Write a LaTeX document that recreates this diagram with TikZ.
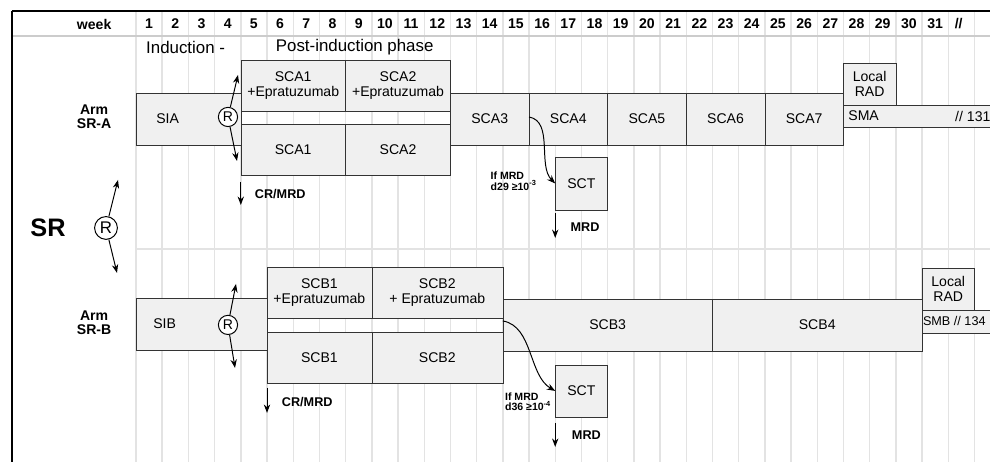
\documentclass[tikz,border=0pt]{standalone}
\usepackage{fontspec}
\setmainfont{Liberation Sans}
\usetikzlibrary{positioning,shadows,arrows.meta}

\newcommand{\wkw}{0.655cm}
\newcommand{\pxh}{0.025cm}

\begin{document}
\begin{tikzpicture}[x=0.655cm, y=-0.025cm, font=\fontsize{10}{11}\selectfont,
  box/.style = {draw=black!80, fill=gray!12, outer sep=0pt, inner sep=1pt, align=center,
                drop shadow={shadow xshift=0.3pt, shadow yshift=-0.8pt, opacity=1, fill=black!80}},
  wks/.style = {minimum width=#1*\wkw},
  ht/.style = {minimum height=#1*\pxh},
  gridline/.style = {draw=gray!22, line width=1pt},
  wknum/.style = {font=\fontsize{10}{12}\selectfont\bfseries},
  rnd/.style = {draw, circle, fill=white, inner sep=0pt, minimum size=0.48cm, line width=0.7pt},
  arr/.style = {->, >={Stealth[length=6pt, width=4.5pt]}, line width=0.7pt},
  flag/.style = {font=\fontsize{9}{9}\selectfont\bfseries},
  tiny/.style = {font=\fontsize{7.5}{7.5}\selectfont\bfseries, align=left, inner sep=0pt}]

\useasboundingbox (-5.1908,0) rectangle (32.595,462);
\clip (-5.1908,0) rectangle (32.595,462);

% grid
\foreach \k in {0,...,33}
  \draw[gridline] (\k,11) -- (\k,462);
\draw[gray!40, line width=1pt] (-4.733,36) -- (33,36);
\draw[gridline] (0,249) -- (33,249);
\draw[black, line width=1pt] (-4.733,11) -- (33,11);
\draw[black, line width=1pt] (-4.733,11) -- (-4.733,462);

% header
\node[wknum, anchor=east] (week) at (-0.75,24) {week};
\foreach \k in {1,...,31}
  \node[wknum] (w\k) at (\k-0.5,24) {\k};
\node[wknum] (wcut) at (31.4,24) {//};

\node[font=\fontsize{12}{14}\selectfont, anchor=west] (induct) at (0.2,47) {Induction -};
\node[font=\fontsize{12}{14}\selectfont, anchor=west] (post) at (5.15,47) {Post-induction phase};

% SR
\node[font=\fontsize{18}{20}\selectfont\bfseries] (sr) at (-3.36,228) {SR};
\node[rnd, minimum size=0.57cm, font=\fontsize{12}{12}\selectfont] (rsr) at (-1.145,228) {R};
\coordinate (rsr-up) at (-0.687,180);
\coordinate (rsr-dn) at (-0.725,273);
\draw[arr] (rsr) -- (rsr-up);
\draw[arr] (rsr) -- (rsr-dn);

% arm A
\node[font=\fontsize{10}{10}\selectfont\bfseries, align=center] (armA) at (-1.6,117) {Arm\\SR-A};
\node[box, wks=4, ht=52, anchor=north west, label={[xshift=-0.52cm]center:SIA}] (sia) at (0,93) {};
\node[box, wks=4, ht=51, anchor=north west] (sca1e) at (4,60) {SCA1\\+Epratuzumab};
\node[box, wks=4, ht=51, right=0pt of sca1e] (sca2e) {SCA2\\+Epratuzumab};
\node[box, wks=4, ht=51, anchor=north west] (sca1) at (4,124) {SCA1};
\node[box, wks=4, ht=51, right=0pt of sca1] (sca2) {SCA2};
\node[box, wks=3, ht=52, anchor=north west] (sca3) at (12,93) {SCA3};
\node[box, wks=3, ht=52, right=0pt of sca3] (sca4) {SCA4};
\node[box, wks=3, ht=52, right=0pt of sca4] (sca5) {SCA5};
\node[box, wks=3, ht=52, right=0pt of sca5] (sca6) {SCA6};
\node[box, wks=3, ht=52, right=0pt of sca6] (sca7) {SCA7};
\node[box, wks=2, ht=42, anchor=south west] (radA) at (27,105) {Local\\RAD};
\node[box, wks=5.8, ht=22, anchor=north west,
      label={[anchor=west]west:SMA}, label={[anchor=east]east:// 131}] (sma) at (27,105) {};

\node[rnd] (rA) at (3.511,117) {R};
\coordinate (rA-up) at (3.893,75);
\coordinate (rA-dn) at (3.855,161);
\draw[arr] (rA) -- (rA-up);
\draw[arr] (rA) -- (rA-dn);

\coordinate (crA-end) at (4,205);
\draw[arr] ([yshift=-0.175cm]sca1.south west) -- (crA-end);
\node[flag, anchor=west] (crA) at (4.35,194) {CR/MRD};

\node[box, wks=2, ht=53, anchor=north west] (sctA) at (16,157) {SCT};
\draw[arr] ([yshift=0.05cm]sca3.east) to[out=-10, in=135, looseness=0.9] (sctA.west);
\node[tiny, anchor=east] (ifA) at (15.3,181) {If MRD\\d29 ≥10\textsuperscript{-3}};
\coordinate (mrdA-end) at (16,238);
\draw[arr] ([yshift=-0.075cm]sctA.south west) -- (mrdA-end);
\node[flag, anchor=west] (mrdA) at (16.4,227) {MRD};

% arm B
\node[font=\fontsize{10}{10}\selectfont\bfseries, align=center] (armB) at (-1.6,323) {Arm\\SR-B};
\node[box, wks=5, ht=52, anchor=north west, label={[xshift=-0.92cm]center:SIB}] (sib) at (0,298) {};
\node[box, wks=4, ht=51, anchor=north west] (scb1e) at (5,267) {SCB1\\+Epratuzumab};
\node[box, wks=5, ht=51, right=0pt of scb1e] (scb2e) {SCB2\\+ Epratuzumab};
\node[box, wks=4, ht=51, anchor=north west] (scb1) at (5,332) {SCB1};
\node[box, wks=5, ht=51, right=0pt of scb1] (scb2) {SCB2};
\node[box, wks=8, ht=52, anchor=north west] (scb3) at (14,299) {SCB3};
\node[box, wks=8, ht=52, right=0pt of scb3] (scb4) {SCB4};
\node[box, wks=2, ht=42, anchor=south west] (radB) at (30,310) {Local\\RAD};
\node[box, wks=2.8, ht=23, anchor=north west,
      label={[anchor=west, inner sep=0.5pt, font=\fontsize{9}{10}\selectfont]west:SMB // 134}] (smb) at (30,310) {};

\node[rnd] (rB) at (3.511,325) {R};
\coordinate (rB-up) at (3.817,284);
\coordinate (rB-dn) at (3.779,368);
\draw[arr] (rB) -- (rB-up);
\draw[arr] (rB) -- (rB-dn);

\coordinate (crB-end) at (5,413);
\draw[arr] ([yshift=-0.125cm]scb1.south west) -- (crB-end);
\node[flag, anchor=west] (crB) at (5.38,402) {CR/MRD};

\node[box, wks=2, ht=52, anchor=north west] (sctB) at (16,365) {SCT};
\draw[arr] ([yshift=-0.075cm]scb2e.south east) to[out=-10, in=150, looseness=0.9] (sctB.west);
\node[tiny, anchor=east] (ifB) at (15.85,402) {If MRD\\d36 ≥10\textsuperscript{-4}};
\coordinate (mrdB-end) at (16,447);
\draw[arr] ([yshift=-0.15cm]sctB.south west) -- (mrdB-end);
\node[flag, anchor=west] (mrdB) at (16.45,435) {MRD};

\end{tikzpicture}
\end{document}
